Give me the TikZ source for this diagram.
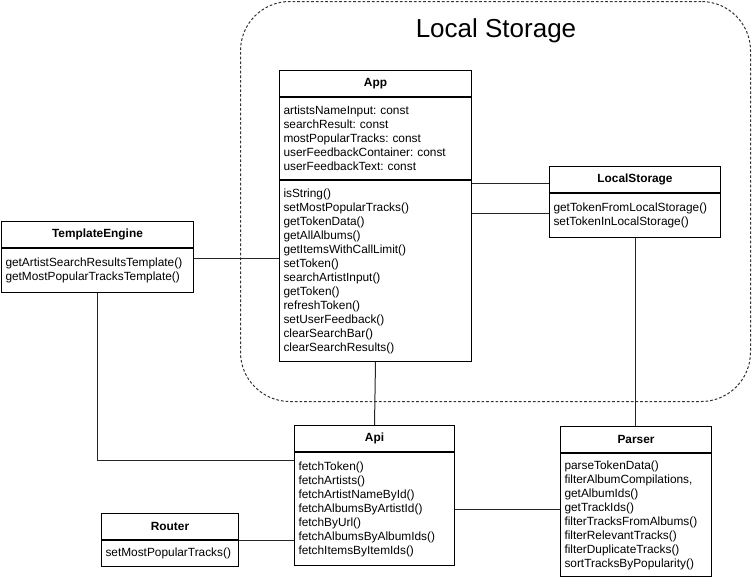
\documentclass[tikz,border=0pt]{standalone}
\usepackage{fontspec}
\setmainfont{Liberation Sans}
\usetikzlibrary{positioning}
\newcommand{\umlfont}{\fontsize{8.9}{10.5}\selectfont\frenchspacing}

\begin{document}
\begin{tikzpicture}[x=0.75pt, y=-0.75pt, line width=0.75pt, classhead/.style={rectangle, draw=black, fill=white, anchor=north west, text width=#1, align=center, inner xsep=3pt, inner ysep=2pt, minimum height=19.5pt, font=\umlfont\bfseries}, classbody/.style={rectangle, draw=black, fill=white, text width=#1, align=left, inner xsep=3pt, inner ysep=2pt, font=\umlfont}, storeframe/.style={rectangle, draw=black!80, dash pattern=on 2pt off 1.5pt, rounded corners=37pt, anchor=north west, minimum width=382.5pt, minimum height=300pt}, link/.style={draw=black!85}]

    \useasboundingbox (0,0) rectangle (752,579);

    %Nodes
    \node[storeframe](store) at (240,1){};
    \node[font=\fontsize{19.5}{22}\selectfont](storeTitle) at (496,31){Local Storage};

    \node[classhead=138pt](appHead) at (279,70){App};
    \node[classbody=138pt, minimum height=61.5pt](appAttr)[below=0pt of appHead]{artistsNameInput: const\\searchResult: const\\mostPopularTracks: const\\userFeedbackContainer: const\\userFeedbackText: const};
    \node[classbody=138pt, minimum height=135.75pt](appMeth)[below=0pt of appAttr]{isString()\\setMostPopularTracks()\\getTokenData()\\getAllAlbums()\\getItemsWithCallLimit()\\setToken()\\searchArtistInput()\\getToken()\\refreshToken()\\setUserFeedback()\\clearSearchBar()\\clearSearchResults()};

    \node[classhead=122.25pt](lsHead) at (549,166){LocalStorage};
    \node[classbody=122.25pt, minimum height=33pt](lsBody)[below=0pt of lsHead]{getTokenFromLocalStorage()\\setTokenInLocalStorage()};

    \node[classhead=138pt](teHead) at (1,221){TemplateEngine};
    \node[classbody=138pt, minimum height=33pt](teBody)[below=0pt of teHead]{getArtistSearchResultsTemplate()\\getMostPopularTracksTemplate()};

    \node[classhead=114pt](apiHead) at (294,425){Api};
    \node[classbody=114pt, minimum height=84.75pt](apiBody)[below=0pt of apiHead]{fetchToken()\\fetchArtists()\\fetchArtistNameById()\\fetchAlbumsByArtistId()\\fetchByUrl()\\fetchAlbumsByAlbumIds()\\fetchItemsByItemIds()};

    \node[classhead=96.75pt](routerHead) at (101,513){Router};
    \node[classbody=96.75pt, minimum height=19.5pt](routerBody)[below=0pt of routerHead]{setMostPopularTracks()};

    \node[classhead=107.25pt](parserHead) at (560,426){Parser};
    \node[classbody=107.25pt, minimum height=92.25pt](parserBody)[below=0pt of parserHead]{parseTokenData()\\filterAlbumCompilations,\\getAlbumIds()\\getTrackIds()\\filterTracksFromAlbums()\\filterRelevantTracks()\\filterDuplicateTracks()\\sortTracksByPopularity()};

    %Lines
    \draw[link] ([yshift=-3pt]lsHead.west) -- ([yshift=-3pt]lsHead.west -| appMeth.east);
    \draw[link] ([yshift=1.5pt]lsBody.west) -- ([yshift=1.5pt]lsBody.west -| appMeth.east);
    \draw[link] ([yshift=-7.5pt]teBody.north east) -- ([yshift=-7.5pt]teBody.north east -| appMeth.west);
    \draw[link] (teBody.south) |- ([yshift=-6pt]apiBody.north west);
    \draw[link] (appMeth.south) -- (apiHead.north);
    \draw[link] (routerBody.north east) -- (routerBody.north east -| apiBody.west);
    \draw[link] (apiBody.east) -- (apiBody.east -| parserBody.west);
    \draw[link] (lsBody.south) -- (lsBody.south |- parserHead.north);

\end{tikzpicture}
\end{document}
